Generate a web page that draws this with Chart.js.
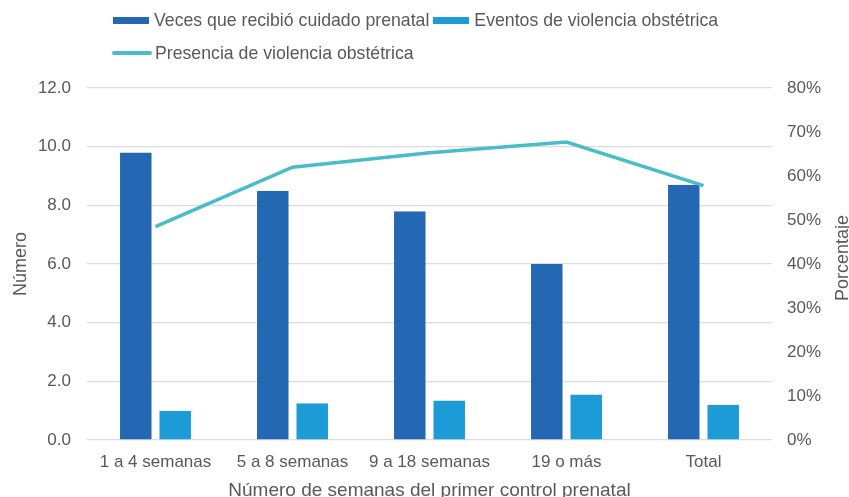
<!DOCTYPE html>
<html>
<head>
<meta charset="utf-8">
<script src="https://cdn.jsdelivr.net/npm/chart.js@4"></script>
<style>
  body { margin: 0; background: #fff; }
  #wrap { position: relative; width: 849px; height: 497px; overflow: hidden; }
  #legend { position: absolute; left: 113px; top: 0; font-family: "Liberation Sans", Arial, sans-serif; font-size: 17.7px; color: #595959; }
  .row { position: absolute; left: 0; white-space: nowrap; display: flex; align-items: center; height: 22px; }
  .item { display: flex; align-items: center; margin-right: 4px; }
  .box { display: inline-block; width: 36px; height: 7px; margin-right: 5px; }
  .ln { display: inline-block; width: 40px; height: 4px; margin-right: 3px; margin-left: -1px; border-radius: 2px; }
</style>
</head>
<body>
<div id="wrap">
  <canvas id="myChart" width="849" height="497"></canvas>
  <div id="legend"></div>
</div>
<script>
var semanas = ["1 a 4 semanas", "5 a 8 semanas", "9 a 18 semanas", "19 o más", "Total"];
var vecesCuidado = [9.8, 8.5, 7.8, 6.0, 8.7];
var eventosViolencia = [1.0, 1.25, 1.35, 1.55, 1.2];
var presenciaViolencia = [48.5, 62, 65.3, 67.7, 57.8];   // %
var numeroTicks = [0, 2, 4, 6, 8, 10, 12];
var porcentajeTicks = [0, 10, 20, 30, 40, 50, 60, 70, 80];

var gris = '#595959';
var fuente = 'Liberation Sans, Arial, sans-serif';

// "Porcentaje" reads bottom to top on the right side
var tituloDerecho = {
    id: 'tituloDerecho',
    afterDraw: function(chart) {
        var ctx = chart.ctx, area = chart.chartArea;
        ctx.save();
        ctx.translate(843, (area.top + area.bottom) / 2 - 6);
        ctx.rotate(-Math.PI / 2);
        ctx.font = '18px ' + fuente;
        ctx.fillStyle = gris;
        ctx.textAlign = 'center';
        ctx.textBaseline = 'middle';
        ctx.fillText('Porcentaje', 0, 0);
        ctx.restore();
    }
};

var ctx = document.getElementById('myChart').getContext('2d');
var chart = new Chart(ctx, {
    type: 'bar',
    data: {
        labels: semanas,
        datasets: [
            {
                type: 'line',
                label: 'Presencia de violencia obstétrica',
                data: presenciaViolencia,
                yAxisID: 'y1',
                borderColor: 'rgb(72, 188, 200)',
                backgroundColor: 'rgb(72, 188, 200)',
                borderWidth: 3.5,
                pointRadius: 0,
                tension: 0,
                order: 0
            },
            {
                label: 'Veces que recibió cuidado prenatal',
                data: vecesCuidado,
                yAxisID: 'y',
                backgroundColor: 'rgb(36, 103, 178)',
                borderColor: 'rgba(0,0,0,0)',
                borderWidth: {top: 0, right: 4, bottom: 0, left: 0},
                order: 1
            },
            {
                label: 'Eventos de violencia obstétrica',
                data: eventosViolencia,
                yAxisID: 'y',
                backgroundColor: 'rgb(28, 155, 215)',
                borderColor: 'rgba(0,0,0,0)',
                borderWidth: {top: 0, right: 0, bottom: 0, left: 4},
                order: 1
            }
        ]
    },
    options: {
        responsive: false,
        animation: false,
        devicePixelRatio: 1,
        categoryPercentage: 0.518,
        barPercentage: 1,
        layout: { padding: { top: 88, left: 0, right: 0, bottom: 0 } },
        plugins: {
            legend: { display: false },
            tooltip: { enabled: false }
        },
        scales: {
            x: {
                grid: { display: false, drawTicks: false },
                border: { display: false },
                ticks: { color: gris, font: { family: fuente, size: 17 }, padding: 12, maxRotation: 0, autoSkip: false },
                title: {
                    display: true,
                    text: 'Número de semanas del primer control prenatal',
                    color: gris,
                    font: { family: fuente, size: 19 },
                    padding: { top: 0, bottom: -5 }
                },
                afterFit: function(s) { s.height = 57; }
            },
            y: {
                position: 'left',
                min: 0,
                max: 12,
                afterBuildTicks: function(s) { s.ticks = numeroTicks.map(function(v) { return {value: v}; }); },
                grid: { color: '#dcdcdc', lineWidth: 1.2, drawTicks: false },
                border: { display: false },
                ticks: {
                    color: gris,
                    font: { family: fuente, size: 17 },
                    padding: 16,
                    callback: function(v) { return v.toFixed(1); }
                },
                title: {
                    display: true,
                    text: 'Número',
                    color: gris,
                    font: { family: fuente, size: 18 },
                    padding: { top: 10, bottom: 0 }
                },
                afterFit: function(s) { s.width = 87; }
            },
            y1: {
                position: 'right',
                min: 0,
                max: 80,
                afterBuildTicks: function(s) { s.ticks = porcentajeTicks.map(function(v) { return {value: v}; }); },
                grid: { display: false, drawTicks: false },
                border: { display: false },
                ticks: {
                    color: gris,
                    font: { family: fuente, size: 17 },
                    padding: 15,
                    callback: function(v) { return v + '%'; }
                },
                afterFit: function(s) { s.width = 77; }
            }
        }
    },
    plugins: [tituloDerecho]
});

// legend: two bar series on the first row, the line on the second
var legend = document.getElementById('legend');
var filas = [[1, 2], [0]];
var centros = [20, 53];
filas.forEach(function(fila, i) {
    var row = document.createElement('div');
    row.className = 'row';
    row.style.top = (centros[i] - 11) + 'px';
    fila.forEach(function(idx) {
        var ds = chart.data.datasets[idx];
        var item = document.createElement('span');
        item.className = 'item';
        var mark = document.createElement('span');
        mark.className = ds.type === 'line' ? 'ln' : 'box';
        mark.style.background = ds.backgroundColor;
        var txt = document.createElement('span');
        txt.textContent = ds.label;
        item.appendChild(mark);
        item.appendChild(txt);
        row.appendChild(item);
    });
    legend.appendChild(row);
});
</script>
</body>
</html>
